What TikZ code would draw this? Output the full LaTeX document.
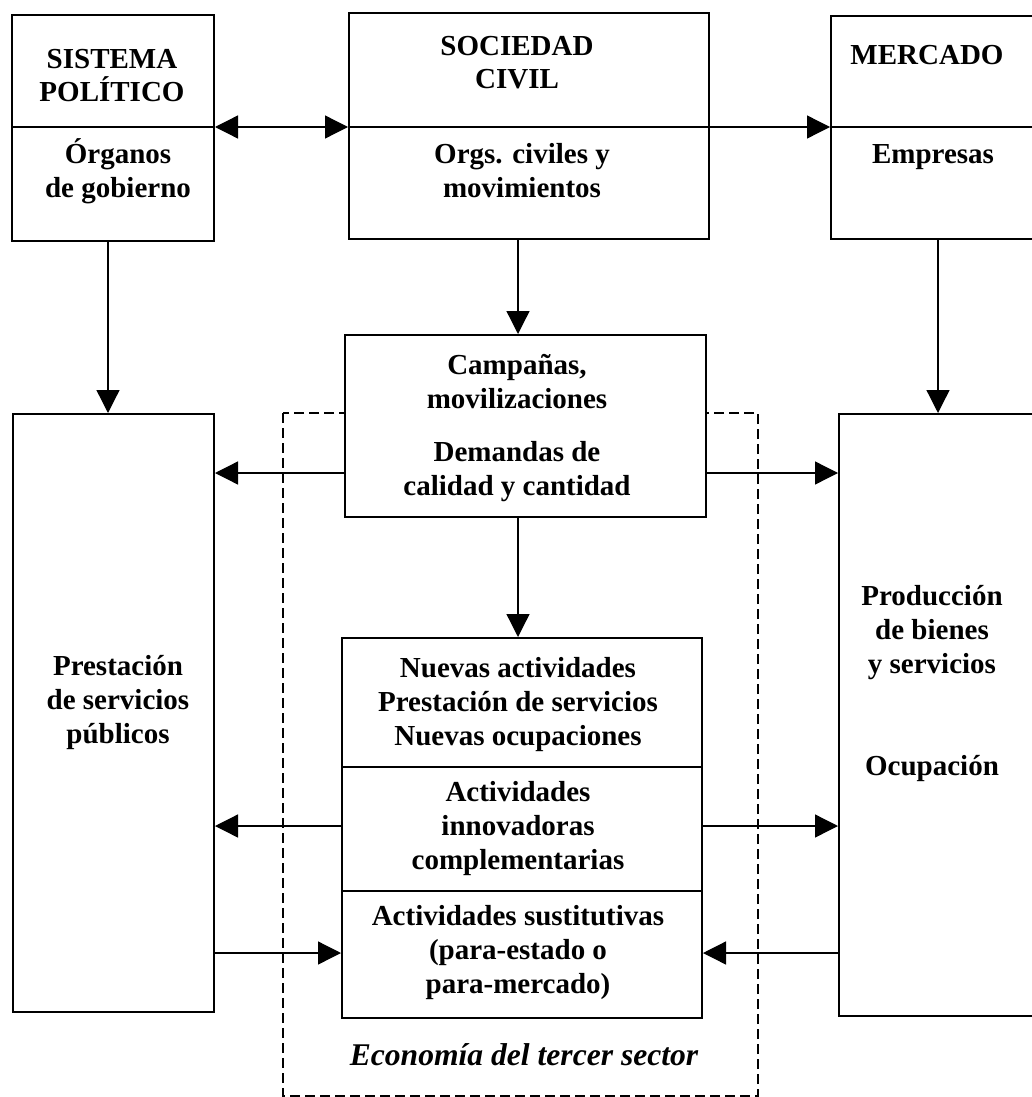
\documentclass[tikz,border=0pt]{standalone}
\usepackage{fontspec}
\setmainfont{Liberation Serif}
\usetikzlibrary{arrows.meta}

\tikzset{
  box/.style={draw, line width=1pt, fill=white, inner sep=0pt, anchor=north west},
  caption/.style={font=\bfseries\fontsize{14.5}{16.8}\selectfont, align=center, inner sep=0pt, anchor=base},
  link/.style={line width=0.65pt},
  tip/.style={-{Triangle[length=11.5pt,width=11.5pt]}},
  tips/.style={{Triangle[length=11.5pt,width=11.5pt]}-{Triangle[length=11.5pt,width=11.5pt]}},
  sector/.style={draw, dash pattern=on 5pt off 2.5pt, line width=0.6pt}
}

\begin{document}
\begin{tikzpicture}[x=0.5pt, y=-0.5pt]
\useasboundingbox (0,0) rectangle (1032,1097);
% Third sector frame
\draw[sector] (283,413) rectangle (758,1096);
% BOXES
\node[box, minimum width=101pt, minimum height=113pt] at (11,14) (sistema) {};
\node[box, minimum width=180pt, minimum height=113pt] at (348,12) (sociedad) {};
\node[box, minimum width=103pt, minimum height=111.5pt] at (830,15) (mercado) {};
\node[box, minimum width=180.5pt, minimum height=91pt] at (344,334) (campanas) {};
\node[box, minimum width=100.5pt, minimum height=299pt] at (12,413) (prestacion) {};
\node[box, minimum width=99pt, minimum height=301pt] at (838,413) (produccion) {};
\node[box, minimum width=180pt, minimum height=190pt] at (341,637) (nuevas) {};
% helper rows and columns
\coordinate (divtop) at (0,127);
\coordinate (divnew1) at (0,767);
\coordinate (divnew2) at (0,891);
\coordinate (colleft) at (108,0);
\coordinate (colmid) at (518,0);
\coordinate (colright) at (938,0);
\coordinate (rowdem) at (0,473);
\coordinate (rowinn) at (0,826);
\coordinate (rowsus) at (0,953);
% TEXT (placed by the baseline of the last line)
\node[caption] at (112,102) (sistema_title) {SISTEMA\\POLÍTICO};
\node[caption] at (118,197) (organos) {Órganos\\de gobierno};
\node[caption] at (517,89) (sociedad_title) {SOCIEDAD\\CIVIL};
\node[caption] at (522,197) (orgs) {Orgs. civiles y\\movimientos};
\node[caption] at (927,65) (mercado_title) {MERCADO};
\node[caption] at (933,163) (empresas) {Empresas};
\node[caption] at (517,408) (campanas_text) {Campañas,\\movilizaciones};
\node[caption] at (517,495) (demandas) {Demandas de\\calidad y cantidad};
\node[caption] at (518,745) (nuevas_text) {Nuevas actividades\\Prestación de servicios\\Nuevas ocupaciones};
\node[caption] at (518,869) (innovadoras) {Actividades\\innovadoras\\complementarias};
\node[caption] at (518,993) (sustitutivas) {Actividades sustitutivas\\(para-estado o\\para-mercado)};
\node[caption] at (118,743) (prestacion_text) {Prestación\\de servicios\\públicos};
\node[caption] at (932,673) (produccion_text) {Producción\\de bienes\\y servicios};
\node[caption] at (932,775) (ocupacion) {Ocupación};
\node[caption, font=\bfseries\itshape\fontsize{15.8}{18}\selectfont] at (524,1065) (sector_text) {Economía del tercer sector};
% Dividers
\draw[link] (sistema.west |- divtop) -- (sistema.east |- divtop);
\draw[link] (sociedad.west |- divtop) -- (sociedad.east |- divtop);
\draw[link] (mercado.west |- divtop) -- (mercado.east |- divtop);
\draw[link] (nuevas.west |- divnew1) -- (nuevas.east |- divnew1);
\draw[link] (nuevas.west |- divnew2) -- (nuevas.east |- divnew2);
% Top arrows
\draw[link, tips] (sistema.east |- divtop) -- (sociedad.west |- divtop);
\draw[link, tip] (sociedad.east |- divtop) -- (mercado.west |- divtop);
% Down arrows
\draw[link, tip] (sistema.south -| colleft) -- (prestacion.north -| colleft);
\draw[link, tip] (sociedad.south -| colmid) -- (campanas.north -| colmid);
\draw[link, tip] (mercado.south -| colright) -- (produccion.north -| colright);
\draw[link, tip] (campanas.south -| colmid) -- (nuevas.north -| colmid);
% Side arrows
\draw[link, tip] (campanas.west |- rowdem) -- (prestacion.east |- rowdem);
\draw[link, tip] (campanas.east |- rowdem) -- (produccion.west |- rowdem);
\draw[link, tip] (nuevas.west |- rowinn) -- (prestacion.east |- rowinn);
\draw[link, tip] (nuevas.east |- rowinn) -- (produccion.west |- rowinn);
\draw[link, tip] (prestacion.east |- rowsus) -- (nuevas.west |- rowsus);
\draw[link, tip] (produccion.west |- rowsus) -- (nuevas.east |- rowsus);
\end{tikzpicture}
\end{document}
